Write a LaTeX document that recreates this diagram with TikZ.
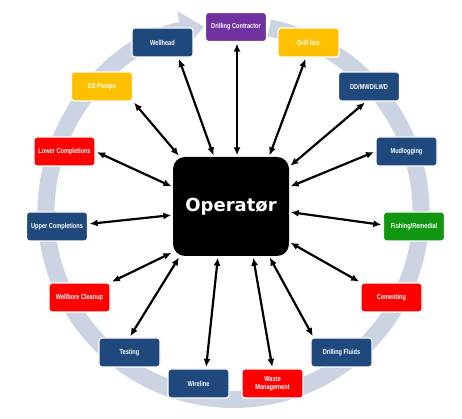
\documentclass[tikz,border=0pt]{standalone}
\usepackage{fontspec}
\setmainfont{Liberation Sans}
\newfontfamily\boxfont[FakeStretch=0.78]{Liberation Sans}
\newfontfamily\opfont{DejaVu Sans}
\usetikzlibrary{arrows.meta,positioning}

\definecolor{navyblue}{RGB}{31,73,125}
\definecolor{sunyellow}{RGB}{255,192,0}
\definecolor{brightred}{RGB}{255,0,0}
\definecolor{leafgreen}{RGB}{16,150,16}
\definecolor{plum}{RGB}{112,48,160}
\definecolor{ringgray}{RGB}{204,212,228}

\begin{document}
\begin{tikzpicture}[
    x=1pt, y=1pt,
    % boxes round the operator
    partner/.style={
        rectangle,
        draw=white,
        line width=1.2pt,
        text=white,
        minimum width=61pt,
        minimum height=29pt,
        inner sep=1pt,
        align=center,
        rounded corners=3pt,
        font=\boxfont\bfseries\fontsize{7.2}{8.2}\selectfont
    },
    navybox/.style={partner, fill=navyblue},
    yellowbox/.style={partner, fill=sunyellow},
    redbox/.style={partner, fill=brightred},
    greenbox/.style={partner, fill=leafgreen},
    purplebox/.style={partner, fill=plum},
    hub/.style={
        rectangle,
        fill=black,
        text=white,
        minimum width=116pt,
        minimum height=99pt,
        rounded corners=12pt,
        font=\opfont\bfseries\fontsize{18}{20}\selectfont
    },
    link/.style={{Latex[length=8pt,width=7pt]}-{Latex[length=8pt,width=7pt]},
        line width=2.2pt, shorten <=1.5pt, shorten >=1.5pt},
    ring/.style={draw=ringgray, line width=17pt,
        -{Triangle[length=24pt,width=38pt]}}
]

\useasboundingbox[fill=white] (0,0) rectangle (462,419);

% Cycle arrow behind everything
\draw[ring] (233.5,207) ++(79:187.5) arc (79:-261:187.5);

% Operator
\node[hub] (op) at (231,212.5) {Operatør};

% Partners
\node[purplebox] (contr) at (236,392) {Drilling Contractor};
\node[navybox] (wellhead) at (162.5,376.5) {Wellhead};
\node[yellowbox] (bits) at (308.5,376.5) {Drill bits};
\node[yellowbox] (pumps) at (102,332.5) {ES Pumps};
\node[navybox] (dd) at (369,332.5) {DD/MWD/LWD};
\node[redbox] (lower) at (64.5,267.5) {Lower Completions};
\node[navybox] (mud) at (406.5,267.5) {Mudlogging};
\node[navybox] (upper) at (57,192.5) {Upper Completions};
\node[greenbox] (fish) at (414,192.5) {Fishing/Remedial};
\node[redbox] (clean) at (79.5,121.5) {Wellbore Cleanup};
\node[redbox] (cem) at (391.5,121.5) {Cementing};
\node[navybox] (test) at (129.5,66.5) {Testing};
\node[navybox] (fluids) at (341.5,66.5) {Drilling Fluids};
\node[navybox] (wire) at (198.5,35.5) {Wireline};
\node[redbox] (waste) at (272.5,35.5) {Waste\\Management};

% Connections
\draw[link] ([xshift=1pt]contr.south) -- ([xshift=6pt]op.north);
\draw[link] ([xshift=16pt]wellhead.south) -- ([xshift=-17pt]op.north);
\draw[link] ([xshift=-2.5pt]bits.south) -- ([xshift=38pt]op.north);
\draw[link] (pumps.south east) -- ([xshift=7pt]op.north west);
\draw[link] ([xshift=-3pt]dd.south) -- ([yshift=-10pt]op.north east);
\draw[link] (lower.east) -- ([yshift=19.5pt]op.west);
\draw[link] (mud.west) -- ([yshift=19.5pt]op.east);
\draw[link] ([yshift=2.5pt]upper.east) -- ([yshift=-8.5pt]op.west);
\draw[link] ([yshift=-5.5pt]op.east) -- ([yshift=1.5pt]fish.west);
\draw[link] (clean.north east) -- ([yshift=4pt]op.south west);
\draw[link] ([yshift=-35.5pt]op.east) -- (cem.north west);
\draw[link] (test.north) -- ([xshift=7pt]op.south west);
\draw[link] ([xshift=-28pt]fluids.north) -- ([xshift=38pt]op.south);
\draw[link] ([xshift=7.5pt]wire.north) -- ([xshift=-13pt]op.south);
\draw[link] (waste.north) -- ([xshift=22pt]op.south);

\end{tikzpicture}
\end{document}
